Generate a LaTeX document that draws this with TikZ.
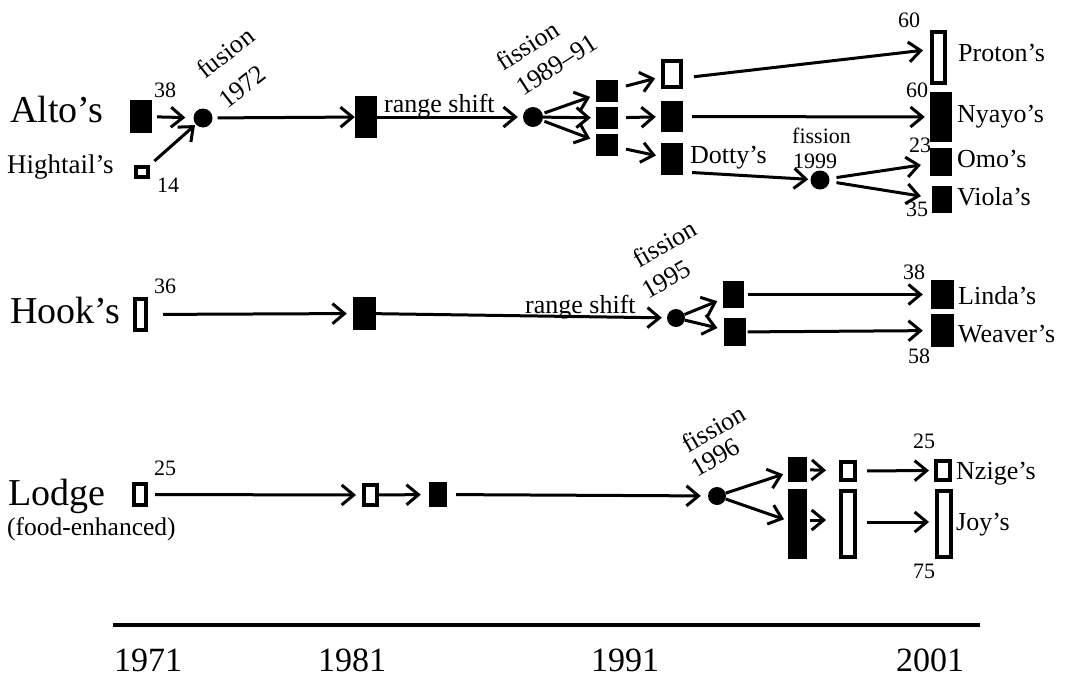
\documentclass[tikz,border=0pt]{standalone}
\usepackage{fontspec}
\setmainfont{Liberation Serif}
\usetikzlibrary{arrows.meta}
\begin{document}
\begin{tikzpicture}[x=1pt,y=-1pt,
  bbox/.style={fill=black, draw=none, inner sep=0pt},
  obox/.style={draw=black, fill=white, line width=4pt, inner sep=0pt},
  dotn/.style={circle, fill=black, inner sep=0pt, minimum size=19pt},
  conn/.style={line width=3pt, -{Straight Barb[length=12pt,width=20pt]}},
  lbl/.style={inner sep=0pt, anchor=base west, font=\fontsize{26}{28}\selectfont},
  num/.style={inner sep=0pt, anchor=base west, font=\fontsize{22}{24}\selectfont},
  big/.style={inner sep=0pt, anchor=base west, font=\fontsize{38}{40}\selectfont},
  year/.style={inner sep=0pt, anchor=base, font=\fontsize{34}{36}\selectfont},
]
\useasboundingbox (0,0) rectangle (1068,677);

% ---------------- Row 1: Alto's ----------------
\node[bbox, minimum width=22pt, minimum height=33pt] (alto) at (141,116.5) {};
\node[obox, minimum width=12pt, minimum height=10pt] (hight) at (142,172) {};
\node[dotn] (fus) at (203,118) {};
\node[bbox, minimum width=22pt, minimum height=42pt] (a81) at (366,117) {};
\node[dotn, minimum size=20pt] (f89) at (533,117) {};
\node[bbox, minimum width=22pt, minimum height=22pt] (s1) at (607,91) {};
\node[bbox, minimum width=22pt, minimum height=22pt] (s2) at (607,118) {};
\node[bbox, minimum width=22pt, minimum height=22pt] (s3) at (607,145) {};
\node[obox, minimum width=18pt, minimum height=26pt] (p1) at (672,74) {};
\node[bbox, minimum width=22pt, minimum height=31pt] (m1) at (672,116.5) {};
\node[bbox, minimum width=22pt, minimum height=32pt] (d1) at (672,159) {};
\node[obox, minimum width=13pt, minimum height=51pt] (proton) at (938.5,57.5) {};
\node[bbox, minimum width=22pt, minimum height=50pt] (nyayo) at (941,117) {};
\node[dotn] (f99) at (820,180) {};
\node[bbox, minimum width=22pt, minimum height=28pt] (omo) at (941,162) {};
\node[bbox, minimum width=20pt, minimum height=27pt] (viola) at (942,199.5) {};

\draw[conn, shorten <=5pt, shorten >=8pt] (alto) -- (fus);
\draw[conn, shorten <=6pt, shorten >=1pt] (hight) -- (fus);
\draw[conn, shorten <=5pt] (fus) -- (a81);
\draw[conn, shorten >=5pt] (a81) -- (f89);
\draw[conn, shorten <=2pt, shorten >=6pt] (f89) -- (s1);
\draw[conn, shorten >=5pt] (f89) -- (s2);
\draw[conn, shorten <=2pt, shorten >=6pt] (f89) -- (s3);
\draw[conn, shorten <=8pt, shorten >=6pt] (s1) -- (p1);
\draw[conn, shorten <=8pt, shorten >=5pt] (s2) -- (m1);
\draw[conn, shorten <=8pt, shorten >=5pt] (s3) -- (d1);
\draw[conn, shorten <=11pt, shorten >=7pt] ([yshift=-4pt]p1.east) -- ([yshift=8pt]proton.west);
\draw[conn, shorten <=9pt, shorten >=5pt] (m1) -- (nyayo);
\draw[conn, shorten <=9pt, shorten >=2pt] ([yshift=-13pt]d1.east) -- (f99);
\draw[conn, shorten <=7pt, shorten >=9pt] (f99) -- (omo);
\draw[conn, shorten <=7pt, shorten >=11pt] (f99) -- (viola);

\node[big] (altoL) at (10,122) {Alto’s};
\node[lbl, font=\fontsize{27}{29}\selectfont] (hightL) at (7,173) {Hightail’s};
\node[num] (n38) at (154,97) {38};
\node[num] (n14) at (157,192) {14};
\node[lbl, rotate=38] (fusL) at (205,80) {fusion};
\node[lbl, rotate=38] (fusY) at (227,110) {1972};
\node[lbl] (rs1) at (384,112) {range shift};
\node[lbl, rotate=33] (fi89) at (503,72) {fission};
\node[lbl, rotate=33] (fi89y) at (523,97) {1989--91};
\node[lbl] (dottyL) at (690,163) {Dotty’s};
\node[num] (fi99) at (792,143) {fission};
\node[num] (fi99y) at (793,168) {1999};
\node[num] (n60a) at (898,28) {60};
\node[num] (n60b) at (906,97) {60};
\node[num] (n23) at (909,152) {23};
\node[num] (n35) at (906,216) {35};
\node[lbl] (protonL) at (958,62) {Proton’s};
\node[lbl] (nyayoL) at (957,122) {Nyayo’s};
\node[lbl] (omoL) at (957,167) {Omo’s};
\node[lbl] (violaL) at (957,205) {Viola’s};

% ---------------- Row 2: Hook's ----------------
\node[obox, minimum width=11pt, minimum height=31pt] (hook) at (140.5,314.5) {};
\node[bbox, minimum width=23pt, minimum height=33pt] (h81) at (364.5,313.5) {};
\node[dotn, minimum size=18pt] (f95) at (676,318) {};
\node[bbox, minimum width=21pt, minimum height=27pt] (h1) at (733.5,294.5) {};
\node[bbox, minimum width=22pt, minimum height=28pt] (h2) at (734.5,332) {};
\node[bbox, minimum width=23pt, minimum height=29pt] (linda) at (942.5,294.5) {};
\node[bbox, minimum width=23pt, minimum height=33pt] (weaver) at (942.5,330.5) {};

\draw[conn, shorten <=15pt, shorten >=6pt] (hook) -- (h81);
\draw[conn, shorten >=5pt] (h81) -- (f95);
\draw[conn, shorten >=6pt] (f95) -- (h1);
\draw[conn, shorten >=6pt] (f95) -- (h2);
\draw[conn, shorten <=4pt, shorten >=8pt] (h1) -- (linda);
\draw[conn, shorten <=2pt, shorten >=8pt] (h2) -- (weaver);

\node[big] (hookL) at (10,323) {Hook’s};
\node[num] (n36) at (154,293) {36};
\node[lbl] (rs2) at (525,313) {range shift};
\node[lbl, rotate=30] (fi95) at (639,269) {fission};
\node[lbl, rotate=30] (fi95y) at (648,300) {1995};
\node[num] (n38b) at (903,279) {38};
\node[num] (n58) at (908,363) {58};
\node[lbl] (lindaL) at (958,304) {Linda’s};
\node[lbl] (weaverL) at (958,342) {Weaver’s};

% ---------------- Row 3: Lodge ----------------
\node[obox, minimum width=12pt, minimum height=21pt] (lodge) at (140,494.5) {};
\node[obox, minimum width=13pt, minimum height=20pt] (l81) at (370.5,495) {};
\node[bbox, minimum width=18pt, minimum height=25pt] (l84) at (438,494.5) {};
\node[dotn, minimum size=18pt] (f96) at (717,496) {};
\node[bbox, minimum width=19pt, minimum height=25pt] (lt1) at (797.5,469.5) {};
\node[bbox, minimum width=19pt, minimum height=70pt] (lb1) at (797.5,524) {};
\node[obox, minimum width=14pt, minimum height=18pt] (lt2) at (848,471) {};
\node[obox, minimum width=14pt, minimum height=66pt] (lb2) at (848,524) {};
\node[obox, minimum width=14pt, minimum height=19pt] (nz) at (943,470.5) {};
\node[obox, minimum width=14pt, minimum height=66pt] (joy) at (944,524) {};

\draw[conn, shorten <=7pt, shorten >=6pt] (lodge) -- (l81);
\draw[conn, shorten >=8pt] (l81) -- (l84);
\draw[conn, shorten <=9pt, shorten >=7pt] (l84) -- (f96);
\draw[conn, shorten >=5pt] (f96) -- (lt1);
\draw[conn, shorten >=4pt] (f96) -- (lb1);
\draw[conn, shorten <=3pt, shorten >=13pt] (lt1) -- (lt2);
\draw[conn, shorten <=3pt, shorten >=13pt] ([yshift=4pt]lb1.east) -- ([yshift=4pt]lb2.west);
\draw[conn, shorten <=10pt, shorten >=5pt] (lt2) -- (nz);
\draw[conn, shorten <=10pt, shorten >=6pt] ([yshift=2pt]lb2.east) -- ([yshift=2pt]joy.west);

\node[big] (lodgeL) at (8,505) {Lodge};
\node[lbl, font=\fontsize{25.5}{27}\selectfont] (foodL) at (7,535) {(food-enhanced)};
\node[num] (n25a) at (154,475) {25};
\node[lbl, rotate=30] (fi96) at (688,454) {fission};
\node[lbl, rotate=30] (fi96y) at (697,478) {1996};
\node[num] (n25b) at (913,448) {25};
\node[num] (n75) at (913,578) {75};
\node[lbl] (nzL) at (956,479) {Nzige’s};
\node[lbl] (joyL) at (956,530) {Joy’s};

% ---------------- Time axis ----------------
\coordinate (axL) at (113,625);
\coordinate (axR) at (980,625);
\draw[line width=4pt] (axL) -- (axR);
\node[year] (y71) at (148,671) {1971};
\node[year] (y81) at (352,671) {1981};
\node[year] (y91) at (625,671) {1991};
\node[year] (y01) at (930,671) {2001};
\end{tikzpicture}
\end{document}
